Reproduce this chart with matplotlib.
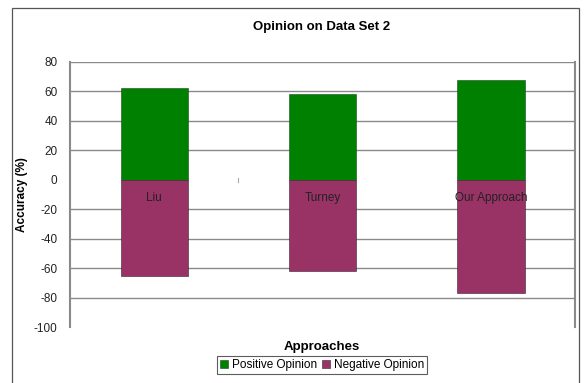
import matplotlib.pyplot as plt
from matplotlib.patches import Rectangle

approaches = ['Liu', 'Turney', 'Our Approach']
positive = [62, 58, 68]
negative = [-65.5, -62, -77]

green = '#008000'
maroon = '#993366'

plt.rcParams['font.family'] = ['Liberation Sans', 'DejaVu Sans']
plt.rcParams['axes.unicode_minus'] = False

fig = plt.figure(figsize=(5.85, 3.83), dpi=100)
ax = fig.add_axes([70 / 585, 56 / 383, 505 / 585, 265 / 383])
ax.set_axisbelow(False)

x = range(len(approaches))
ax.bar(x, positive, width=0.4, color=green, edgecolor='#1a4a1a', linewidth=0.4,
       label='Positive Opinion', zorder=1)
ax.bar(x, negative, width=0.4, color=maroon, edgecolor='#3a2030', linewidth=0.4,
       label='Negative Opinion', zorder=1)

ax.set_xlim(-0.5, 2.5)
ax.set_ylim(-100, 80)
ax.set_yticks(range(-100, 81, 20))
ax.tick_params(axis='y', labelsize=8.5, length=4, pad=5, color='#888888',
               labelcolor='#222222')
for t in ax.yaxis.get_major_ticks():
    if t.get_loc() in (0, -100):
        t.tick1line.set_visible(False)

# gridlines except at zero
for v in range(-80, 81, 20):
    if v != 0:
        ax.axhline(v, color='#8a8a8a', linewidth=1.0, zorder=0.5)

# category axis crosses at zero, labels sit just under it
ax.spines['bottom'].set_position(('data', 0))
ax.spines['bottom'].set_visible(False)
ax.set_xticks(list(x))
ax.set_xticklabels(approaches, fontsize=8.5, color='#222222')
ax.tick_params(axis='x', length=0, pad=9)
ax.plot([0.5, 0.5], [-1.5, 1.5], color='#aaaaaa', linewidth=0.8, zorder=0.5)

ax.spines['top'].set_visible(False)
ax.spines['left'].set_color('#8a8a8a')
ax.spines['left'].set_linewidth(1.5)
ax.spines['right'].set_color('#8a8a8a')
ax.spines['right'].set_linewidth(1.5)

fig.text(322 / 585, 1 - 27 / 383, 'Opinion on Data Set 2', fontsize=9.5,
         fontweight='bold', ha='center', va='center')
fig.text(22 / 585, 1 - 195 / 383, 'Accuracy (%)', fontsize=8.5, fontweight='bold',
         rotation=90, ha='center', va='center')
fig.text(322 / 585, 1 - 347 / 383, 'Approaches', fontsize=9.5, fontweight='bold',
         ha='center', va='center')

leg = fig.legend(loc='center', bbox_to_anchor=(322 / 585, 1 - 365 / 383), ncol=2,
                 fontsize=8.5, frameon=True, fancybox=False, handlelength=0.7,
                 handleheight=0.7, handletextpad=0.3, columnspacing=0.4,
                 borderpad=0.25, borderaxespad=0)
leg.get_frame().set_edgecolor('#333333')
leg.get_frame().set_linewidth(0.8)

fig.patches.append(Rectangle((12 / 585, -0.05), 567 / 585, 1.05 - 8 / 383,
                             transform=fig.transFigure, fill=False,
                             edgecolor='#555555', linewidth=0.9))

fig.savefig('out.png', dpi=100)
